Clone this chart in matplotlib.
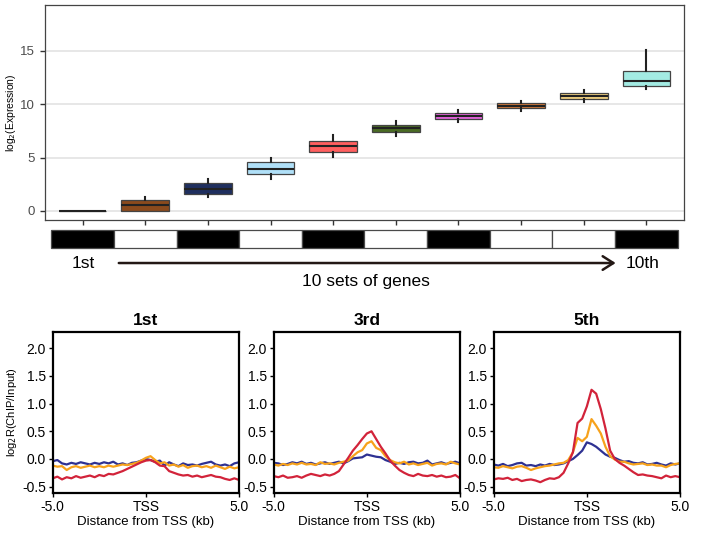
import numpy as np
import matplotlib
matplotlib.use('Agg')
import matplotlib.pyplot as plt
from matplotlib.patches import FancyArrowPatch

plt.rcParams['font.family'] = ['Liberation Sans', 'DejaVu Sans']

# ---- top panel: expression of 10 gene sets ----
med   = [0.0, 0.56, 2.1, 3.9, 6.1, 7.8, 8.9, 9.87, 10.78, 12.2]
q1    = [0.0, 0.0, 1.6, 3.45, 5.55, 7.4, 8.6, 9.63, 10.5, 11.7]
q3    = [0.0, 1.03, 2.6, 4.55, 6.6, 8.1, 9.2, 10.1, 11.03, 13.1]
wlo   = [0.0, 0.0, 1.35, 3.0, 5.05, 7.05, 8.35, 9.37, 10.24, 11.4]
whi   = [0.0, 1.35, 2.95, 5.0, 7.1, 8.45, 9.45, 10.3, 11.34, 15.1]
box_colors = ['#BBBBBB', '#8B4A1C', '#1F2F5F', '#B0E0F8', '#FF5F5F',
              '#4A6B24', '#E563DD', '#D2793A', '#F0D080', '#A3EBE3']
strip = ['black', 'white', 'black', 'white', 'black',
         'white', 'black', 'white', 'white', 'black']

# ---- bottom panels: ChIP profiles around TSS ----
x_kb = np.arange(-5, 5.001, 0.25)
titles = ['1st', '3rd', '5th']

blue_1 = [-0.04, -0.02, -0.08, -0.10, -0.07, -0.09, -0.06, -0.08, -0.10, -0.07, -0.09,
          -0.06, -0.08, -0.05, -0.10, -0.08, -0.11, -0.07, -0.06, -0.03, 0.00, -0.02,
          -0.05, -0.03, -0.12, -0.06, -0.10, -0.13, -0.08, -0.11, -0.10, -0.12, -0.09,
          -0.07, -0.05, -0.10, -0.12, -0.10, -0.13, -0.08, -0.06]
orange_1 = [-0.12, -0.14, -0.13, -0.20, -0.15, -0.13, -0.16, -0.14, -0.12, -0.15, -0.13,
            -0.15, -0.12, -0.14, -0.12, -0.10, -0.11, -0.09, -0.07, -0.03, 0.02, 0.05,
            -0.02, -0.08, -0.06, -0.12, -0.10, -0.14, -0.11, -0.16, -0.13, -0.12, -0.15,
            -0.13, -0.16, -0.12, -0.15, -0.18, -0.14, -0.17, -0.15]
red_1 = [-0.35, -0.32, -0.37, -0.33, -0.35, -0.31, -0.34, -0.32, -0.30, -0.33, -0.29,
         -0.31, -0.27, -0.28, -0.25, -0.22, -0.18, -0.14, -0.10, -0.06, -0.03, -0.02,
         -0.06, -0.12, -0.13, -0.22, -0.25, -0.28, -0.30, -0.29, -0.32, -0.30, -0.33,
         -0.31, -0.29, -0.32, -0.33, -0.36, -0.38, -0.35, -0.38]

blue_3 = [-0.07, -0.08, -0.11, -0.09, -0.06, -0.08, -0.05, -0.09, -0.07, -0.10, -0.08,
          -0.06, -0.09, -0.07, -0.05, -0.08, -0.04, 0.01, 0.02, 0.03, 0.08, 0.06,
          0.04, 0.03, -0.02, -0.05, -0.09, -0.07, -0.09, -0.06, -0.05, -0.08, -0.07,
          -0.03, -0.10, -0.08, -0.06, -0.09, -0.07, -0.05, -0.08]
orange_3 = [-0.10, -0.12, -0.09, -0.11, -0.08, -0.10, -0.07, -0.10, -0.09, -0.11, -0.06,
            -0.09, -0.08, -0.10, -0.07, -0.05, -0.03, 0.05, 0.12, 0.16, 0.28, 0.32,
            0.20, 0.16, 0.05, -0.02, -0.06, -0.08, -0.05, -0.10, -0.08, -0.11, -0.09,
            -0.07, -0.12, -0.09, -0.08, -0.10, -0.05, -0.08, -0.10]
red_3 = [-0.31, -0.33, -0.30, -0.34, -0.33, -0.31, -0.34, -0.30, -0.27, -0.29, -0.31,
         -0.28, -0.30, -0.27, -0.22, -0.10, 0.02, 0.15, 0.25, 0.36, 0.46, 0.50,
         0.36, 0.22, 0.10, -0.03, -0.12, -0.20, -0.25, -0.29, -0.31, -0.27, -0.30,
         -0.31, -0.29, -0.32, -0.30, -0.33, -0.32, -0.29, -0.35]

blue_5 = [-0.10, -0.12, -0.09, -0.13, -0.11, -0.08, -0.07, -0.12, -0.11, -0.13, -0.10,
          -0.12, -0.09, -0.11, -0.10, -0.08, -0.04, 0.00, 0.07, 0.15, 0.30, 0.27,
          0.22, 0.15, 0.08, 0.04, 0.02, -0.02, -0.05, -0.04, -0.07, -0.08, -0.06,
          -0.10, -0.09, -0.07, -0.10, -0.12, -0.08, -0.10, -0.08]
orange_5 = [-0.15, -0.16, -0.13, -0.15, -0.17, -0.14, -0.13, -0.16, -0.20, -0.17, -0.15,
            -0.13, -0.12, -0.10, -0.08, -0.07, -0.02, 0.12, 0.38, 0.32, 0.40, 0.72,
            0.60, 0.46, 0.22, 0.05, -0.01, -0.05, -0.05, -0.08, -0.10, -0.09, -0.08,
            -0.11, -0.10, -0.12, -0.12, -0.15, -0.11, -0.09, -0.08]
red_5 = [-0.37, -0.35, -0.36, -0.34, -0.38, -0.36, -0.40, -0.38, -0.37, -0.39, -0.42,
         -0.38, -0.35, -0.36, -0.33, -0.25, -0.08, 0.12, 0.65, 0.73, 0.95, 1.25,
         1.18, 0.90, 0.55, 0.15, 0.00, -0.07, -0.12, -0.18, -0.24, -0.29, -0.28,
         -0.30, -0.31, -0.33, -0.35, -0.30, -0.33, -0.31, -0.33]

profiles = [(blue_1, orange_1, red_1), (blue_3, orange_3, red_3), (blue_5, orange_5, red_5)]
line_colors = ['#2E3192', '#F7A21B', '#D2233A']

fig = plt.figure(figsize=(7.04, 5.37), dpi=100)

# boxplot
ax = fig.add_axes([0.0639, 0.5903, 0.9077, 0.4004])
stats = []
for i in range(10):
    stats.append(dict(med=med[i], q1=q1[i], q3=q3[i], whislo=wlo[i], whishi=whi[i]))
pos = np.arange(1, 11)
bp = ax.bxp(stats, positions=pos, widths=0.76, showfliers=False, showcaps=False,
            patch_artist=True,
            boxprops=dict(edgecolor='#444444', linewidth=0.9),
            medianprops=dict(color='#222222', linewidth=1.5),
            whiskerprops=dict(color='#222222', linewidth=1.5), zorder=3)
for patch, c in zip(bp['boxes'], box_colors):
    patch.set_facecolor(c)
ax.set_xlim(0.4, 10.6)
ax.set_ylim(-0.85, 19.3)
ax.set_yticks([0, 5, 10, 15])
ax.set_xticks(pos)
ax.set_xticklabels([])
ax.grid(axis='y', color='#E3E3E3', linewidth=1.2, zorder=0)
ax.set_axisbelow(True)
for s in ax.spines.values():
    s.set_color('#444444')
    s.set_linewidth(0.9)
ax.tick_params(axis='both', colors='#333333', labelcolor='#4D4D4D', labelsize=9.5,
               length=3.5, width=1.0)
ax.set_ylabel('log$_2$(Expression)', fontsize=7.5, labelpad=2)

# black/white strip under the boxplot
sax = fig.add_axes([0.0639, 0.5382, 0.9077, 0.0341])
sax.bar(pos, [1] * 10, width=1.0, color=strip, edgecolor='#4a4a4a', linewidth=0.9,
        clip_on=False)
sax.set_xlim(0.4, 10.6)
sax.set_ylim(0, 1)
sax.axis('off')

fig.text(0.1179, 0.5102, '1st', ha='center', va='center', fontsize=12.5)
fig.text(0.913, 0.5102, '10th', ha='center', va='center', fontsize=12.5)
fig.text(0.52, 0.4767, '10 sets of genes', ha='center', va='center', fontsize=12.5)
arr = FancyArrowPatch((0.1648, 0.5102), (0.8785, 0.5102), transform=fig.transFigure,
                      arrowstyle='->,head_length=0.55,head_width=0.35',
                      mutation_scale=14, color='#231815', linewidth=1.8)
fig.add_artist(arr)

# profiles
lefts = [0.0749, 0.3888, 0.7013]
for k in range(3):
    pa = fig.add_axes([lefts[k], 0.0825, 0.2646, 0.2998])
    for ys, c in zip(profiles[k], line_colors):
        pa.plot(x_kb, ys, color=c, linewidth=1.6)
    pa.set_xlim(-5, 5)
    pa.set_ylim(-0.61, 2.3)
    pa.set_yticks([-0.5, 0.0, 0.5, 1.0, 1.5, 2.0])
    pa.set_yticklabels(['-0.5', '0.0', '0.5', '1.0', '1.5', '2.0'])
    pa.set_xticks([-5, 0, 5])
    pa.set_xticklabels(['-5.0', 'TSS', '5.0'])
    pa.tick_params(labelsize=10, length=3, width=1.0, pad=2)
    for s in pa.spines.values():
        s.set_linewidth(1.6)
    pa.set_title(titles[k], fontsize=12.5, fontweight='bold', pad=5)
    pa.set_xlabel('Distance from TSS (kb)', fontsize=9.5, labelpad=2)
    if k == 0:
        pa.set_ylabel('log$_2$R(ChIP/Input)', fontsize=8, labelpad=2)

fig.savefig('out.png', dpi=100)
